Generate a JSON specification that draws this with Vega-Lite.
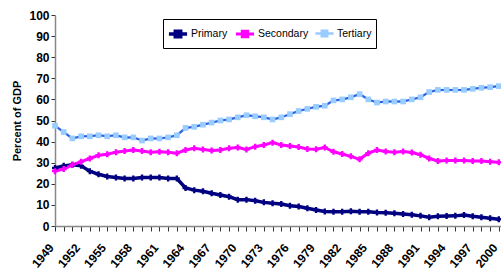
{
  "$schema": "https://vega.github.io/schema/vega-lite/v6.json",
  "width": 446,
  "height": 211,
  "autosize": {"type": "none"},
  "padding": {"left": 55, "top": 15, "right": 0, "bottom": 48},
  "background": "white",
  "config": {"view": {"stroke": null}, "font": "Liberation Sans", "axis": {"grid": false}},
  "data": {"values": [
    {"year":1949,"series":"Primary","value":27.5},{"year":1950,"series":"Primary","value":28.5},{"year":1951,"series":"Primary","value":29},{"year":1952,"series":"Primary","value":28.5},{"year":1953,"series":"Primary","value":26},{"year":1954,"series":"Primary","value":24.5},{"year":1955,"series":"Primary","value":23.5},{"year":1956,"series":"Primary","value":23},{"year":1957,"series":"Primary","value":22.5},{"year":1958,"series":"Primary","value":22.5},
    {"year":1959,"series":"Primary","value":23},{"year":1960,"series":"Primary","value":23},{"year":1961,"series":"Primary","value":23},{"year":1962,"series":"Primary","value":22.5},{"year":1963,"series":"Primary","value":22.5},{"year":1964,"series":"Primary","value":18},{"year":1965,"series":"Primary","value":17},{"year":1966,"series":"Primary","value":16.5},{"year":1967,"series":"Primary","value":15.5},{"year":1968,"series":"Primary","value":14.7},
    {"year":1969,"series":"Primary","value":13.9},{"year":1970,"series":"Primary","value":12.5},{"year":1971,"series":"Primary","value":12.5},{"year":1972,"series":"Primary","value":12},{"year":1973,"series":"Primary","value":11.2},{"year":1974,"series":"Primary","value":10.8},{"year":1975,"series":"Primary","value":10.4},{"year":1976,"series":"Primary","value":9.6},{"year":1977,"series":"Primary","value":9.2},{"year":1978,"series":"Primary","value":8.4},
    {"year":1979,"series":"Primary","value":7.6},{"year":1980,"series":"Primary","value":6.9},{"year":1981,"series":"Primary","value":6.8},{"year":1982,"series":"Primary","value":6.8},{"year":1983,"series":"Primary","value":7},{"year":1984,"series":"Primary","value":6.8},{"year":1985,"series":"Primary","value":6.8},{"year":1986,"series":"Primary","value":6.4},{"year":1987,"series":"Primary","value":6.3},{"year":1988,"series":"Primary","value":6},
    {"year":1989,"series":"Primary","value":5.7},{"year":1990,"series":"Primary","value":5.3},{"year":1991,"series":"Primary","value":4.8},{"year":1992,"series":"Primary","value":4.2},{"year":1993,"series":"Primary","value":4.6},{"year":1994,"series":"Primary","value":4.7},{"year":1995,"series":"Primary","value":4.8},{"year":1996,"series":"Primary","value":5.2},{"year":1997,"series":"Primary","value":4.6},{"year":1998,"series":"Primary","value":4.2},
    {"year":1999,"series":"Primary","value":3.7},{"year":2000,"series":"Primary","value":3.2},
    {"year":1949,"series":"Secondary","value":26},{"year":1950,"series":"Secondary","value":27},{"year":1951,"series":"Secondary","value":29},{"year":1952,"series":"Secondary","value":30.5},{"year":1953,"series":"Secondary","value":32},{"year":1954,"series":"Secondary","value":33.5},{"year":1955,"series":"Secondary","value":34},{"year":1956,"series":"Secondary","value":35},{"year":1957,"series":"Secondary","value":35.5},{"year":1958,"series":"Secondary","value":36},
    {"year":1959,"series":"Secondary","value":35.5},{"year":1960,"series":"Secondary","value":35},{"year":1961,"series":"Secondary","value":35.2},{"year":1962,"series":"Secondary","value":35},{"year":1963,"series":"Secondary","value":34.5},{"year":1964,"series":"Secondary","value":36},{"year":1965,"series":"Secondary","value":36.8},{"year":1966,"series":"Secondary","value":36.3},{"year":1967,"series":"Secondary","value":35.8},{"year":1968,"series":"Secondary","value":36},
    {"year":1969,"series":"Secondary","value":36.8},{"year":1970,"series":"Secondary","value":37.2},{"year":1971,"series":"Secondary","value":36.3},{"year":1972,"series":"Secondary","value":37.6},{"year":1973,"series":"Secondary","value":38.4},{"year":1974,"series":"Secondary","value":39.5},{"year":1975,"series":"Secondary","value":38.4},{"year":1976,"series":"Secondary","value":37.9},{"year":1977,"series":"Secondary","value":37.4},{"year":1978,"series":"Secondary","value":36.5},
    {"year":1979,"series":"Secondary","value":36.4},{"year":1980,"series":"Secondary","value":37.2},{"year":1981,"series":"Secondary","value":35.2},{"year":1982,"series":"Secondary","value":34.1},{"year":1983,"series":"Secondary","value":33},{"year":1984,"series":"Secondary","value":31.6},{"year":1985,"series":"Secondary","value":34.5},{"year":1986,"series":"Secondary","value":36},{"year":1987,"series":"Secondary","value":35.3},{"year":1988,"series":"Secondary","value":35},
    {"year":1989,"series":"Secondary","value":35.3},{"year":1990,"series":"Secondary","value":34.8},{"year":1991,"series":"Secondary","value":33.8},{"year":1992,"series":"Secondary","value":32},{"year":1993,"series":"Secondary","value":30.8},{"year":1994,"series":"Secondary","value":31},{"year":1995,"series":"Secondary","value":31},{"year":1996,"series":"Secondary","value":31},{"year":1997,"series":"Secondary","value":30.8},{"year":1998,"series":"Secondary","value":30.8},
    {"year":1999,"series":"Secondary","value":30.5},{"year":2000,"series":"Secondary","value":30.2},
    {"year":1949,"series":"Tertiary","value":47.5},{"year":1950,"series":"Tertiary","value":44.5},{"year":1951,"series":"Tertiary","value":41.5},{"year":1952,"series":"Tertiary","value":42.5},{"year":1953,"series":"Tertiary","value":42.5},{"year":1954,"series":"Tertiary","value":43},{"year":1955,"series":"Tertiary","value":42.5},{"year":1956,"series":"Tertiary","value":43},{"year":1957,"series":"Tertiary","value":42},{"year":1958,"series":"Tertiary","value":42},
    {"year":1959,"series":"Tertiary","value":40.5},{"year":1960,"series":"Tertiary","value":41.5},{"year":1961,"series":"Tertiary","value":41.5},{"year":1962,"series":"Tertiary","value":42},{"year":1963,"series":"Tertiary","value":43},{"year":1964,"series":"Tertiary","value":46.5},{"year":1965,"series":"Tertiary","value":47},{"year":1966,"series":"Tertiary","value":48},{"year":1967,"series":"Tertiary","value":49},{"year":1968,"series":"Tertiary","value":50},
    {"year":1969,"series":"Tertiary","value":50.5},{"year":1970,"series":"Tertiary","value":51.5},{"year":1971,"series":"Tertiary","value":52.5},{"year":1972,"series":"Tertiary","value":52},{"year":1973,"series":"Tertiary","value":51.5},{"year":1974,"series":"Tertiary","value":50.5},{"year":1975,"series":"Tertiary","value":51.5},{"year":1976,"series":"Tertiary","value":53},{"year":1977,"series":"Tertiary","value":54.5},{"year":1978,"series":"Tertiary","value":55.5},
    {"year":1979,"series":"Tertiary","value":56.5},{"year":1980,"series":"Tertiary","value":57},{"year":1981,"series":"Tertiary","value":59.5},{"year":1982,"series":"Tertiary","value":60},{"year":1983,"series":"Tertiary","value":61},{"year":1984,"series":"Tertiary","value":62.5},{"year":1985,"series":"Tertiary","value":60},{"year":1986,"series":"Tertiary","value":58.5},{"year":1987,"series":"Tertiary","value":59},{"year":1988,"series":"Tertiary","value":59},
    {"year":1989,"series":"Tertiary","value":59},{"year":1990,"series":"Tertiary","value":60},{"year":1991,"series":"Tertiary","value":61},{"year":1992,"series":"Tertiary","value":63.5},{"year":1993,"series":"Tertiary","value":64.5},{"year":1994,"series":"Tertiary","value":64.5},{"year":1995,"series":"Tertiary","value":64.5},{"year":1996,"series":"Tertiary","value":64.5},{"year":1997,"series":"Tertiary","value":65},{"year":1998,"series":"Tertiary","value":65.5},
    {"year":1999,"series":"Tertiary","value":65.8},{"year":2000,"series":"Tertiary","value":66.3}
  ]},
  "encoding": {
    "x": {
      "field": "year", "type": "quantitative",
      "scale": {"domain": [1949, 2000.25], "nice": false, "zero": false},
      "axis": {
        "title": null,
        "values": [1949,1950,1951,1952,1953,1954,1955,1956,1957,1958,1959,1960,1961,1962,1963,1964,1965,1966,1967,1968,1969,1970,1971,1972,1973,1974,1975,1976,1977,1978,1979,1980,1981,1982,1983,1984,1985,1986,1987,1988,1989,1990,1991,1992,1993,1994,1995,1996,1997,1998,1999,2000],
        "format": "d",
        "labelExpr": "(datum.value - 1949) % 3 == 0 ? datum.label : ''",
        "labelAngle": -50,
        "labelFontWeight": "bold",
        "labelFontSize": 12,
        "labelColor": "#000",
        "labelOverlap": false,
        "labelBound": false,
        "labelFlush": false,
        "labelPadding": 14,
        "labelOffset": -4,
        "tickSize": 5,
        "tickColor": "#333",
        "domainColor": "#888",
        "domainWidth": 1.5
      }
    },
    "y": {
      "field": "value", "type": "quantitative",
      "scale": {"domain": [0, 100], "nice": false},
      "axis": {
        "title": "Percent of GDP",
        "values": [0,10,20,30,40,50,60,70,80,90,100],
        "labelFontWeight": "bold",
        "labelFontSize": 12,
        "labelColor": "#000",
        "labelPadding": 2,
        "tickSize": 4,
        "tickColor": "#333",
        "domainColor": "#888",
        "domainWidth": 1.5,
        "titleFontSize": 11,
        "titleFontWeight": "bold",
        "titleColor": "#000",
        "titlePadding": 6
      }
    }
  },
  "layer": [
    {
      "mark": {"type": "line"},
      "encoding": {
        "color": {
          "field": "series", "type": "nominal",
          "scale": {"domain": ["Primary", "Secondary", "Tertiary"], "range": ["#000080", "#FF00FF", "#99CCFF"]},
          "legend": {
            "title": null,
            "orient": "none",
            "legendX": 108,
            "legendY": 4,
            "direction": "horizontal",
            "gridAlign": "none",
            "strokeColor": "#000",
            "fillColor": "#fff",
            "padding": 4,
            "labelFont": "Liberation Sans",
            "labelFontSize": 10.5,
            "labelColor": "#000",
            "labelOffset": 2,
            "columnPadding": 1,
            "symbolType": "M-1,0H1M-0.3,-0.3H0.3V0.3H-0.3Z",
            "symbolSize": 330,
            "symbolStrokeWidth": 2.5,
            "encode": {"symbols": {"update": {
              "fill": {"scale": "color", "field": "value"},
              "stroke": {"scale": "color", "field": "value"}
            }}}
          }
        },
        "strokeWidth": {
          "field": "series", "type": "nominal",
          "scale": {"domain": ["Primary", "Secondary", "Tertiary"], "range": [3.5, 2.5, 6]},
          "legend": null
        }
      }
    },
    {
      "transform": [{"filter": "datum.series == 'Tertiary'"}],
      "mark": {"type": "line", "color": "#2F5FE0", "strokeWidth": 2}
    },
    {
      "transform": [{"filter": "datum.series != 'Tertiary'"}],
      "mark": {"type": "point", "filled": true, "opacity": 1, "shape": "cross", "size": 36},
      "encoding": {
        "color": {"field": "series", "type": "nominal"}
      }
    },
    {
      "transform": [{"filter": "datum.series == 'Tertiary'"}],
      "mark": {"type": "point", "filled": true, "opacity": 1, "shape": "square", "size": 32},
      "encoding": {
        "color": {"field": "series", "type": "nominal"}
      }
    }
  ]
}
